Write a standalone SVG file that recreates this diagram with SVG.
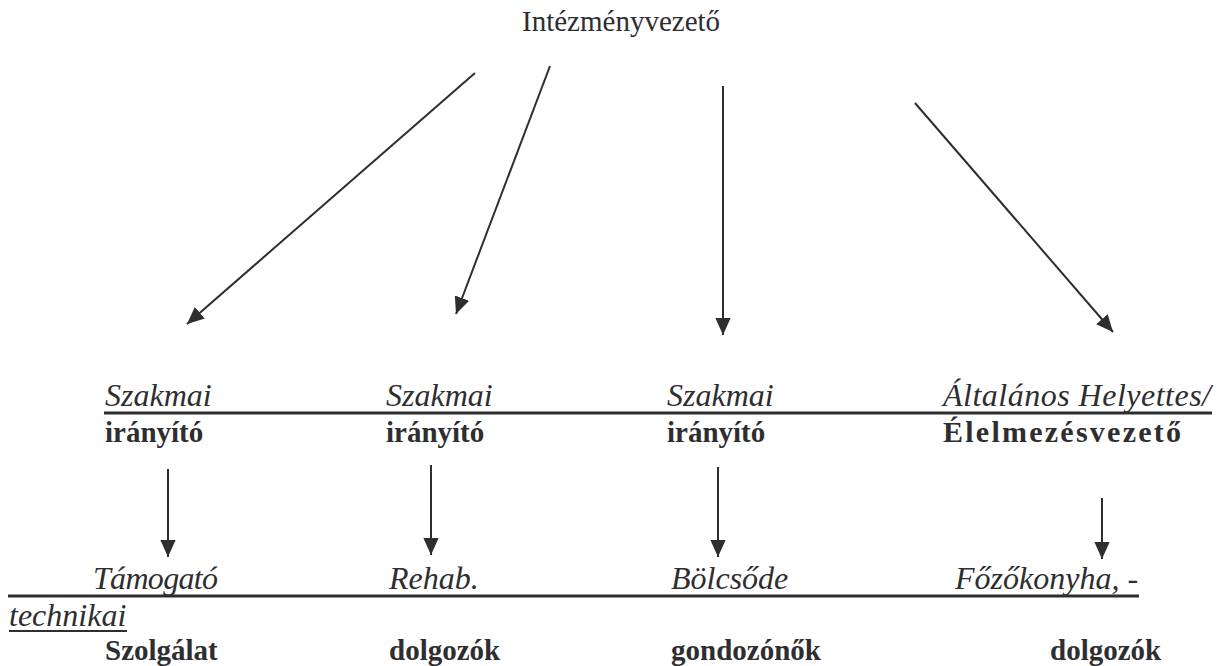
<svg xmlns="http://www.w3.org/2000/svg" width="1219" height="666" viewBox="0 0 1219 666">
<style>
text{font-family:"Liberation Serif","Times New Roman",serif;font-size:32px;fill:#2e2e30}
.t{font-size:29px}
.i{font-style:italic}
.b{font-weight:bold;font-size:29px}
.c{stroke:#2e2e30;stroke-width:2;fill:none}
.r{stroke:#2e2e30;stroke-width:3}
</style>
<defs>
<marker id="ah" viewBox="0 0 10 10" refX="10" refY="5" markerWidth="17" markerHeight="17" markerUnits="userSpaceOnUse" orient="auto">
<path d="M0,0.5 L10,5 L0,9.5 z" fill="#2e2e30"/>
</marker>
</defs>
<g id="n-top"><text class="t" x="522" y="31">Intézményvezető</text></g>
<g id="connectors">
<line class="c" x1="475" y1="73" x2="187" y2="324" marker-end="url(#ah)"/>
<line class="c" x1="550" y1="66" x2="456" y2="314" marker-end="url(#ah)"/>
<line class="c" x1="723" y1="86" x2="723" y2="335" marker-end="url(#ah)"/>
<line class="c" x1="915" y1="103" x2="1113" y2="332" marker-end="url(#ah)"/>
<line class="c" x1="168" y1="469" x2="168" y2="557" marker-end="url(#ah)"/>
<line class="c" x1="431" y1="465" x2="431" y2="555" marker-end="url(#ah)"/>
<line class="c" x1="718" y1="467" x2="718" y2="557" marker-end="url(#ah)"/>
<line class="c" x1="1102" y1="498" x2="1102" y2="559" marker-end="url(#ah)"/>
</g>
<g id="rules">
<line class="r" x1="104" y1="413" x2="1212" y2="413"/>
<line class="r" x1="8" y1="596" x2="1139" y2="596"/>
<line stroke="#2e2e30" stroke-width="2" x1="9" y1="631" x2="127" y2="631"/>
</g>
<g id="n1"><text class="i" x="105" y="406">Szakmai</text><text class="b" x="105" y="442">irányító</text></g>
<g id="n2"><text class="i" x="386" y="406">Szakmai</text><text class="b" x="386" y="442">irányító</text></g>
<g id="n3"><text class="i" x="667" y="406">Szakmai</text><text class="b" x="667" y="442">irányító</text></g>
<g id="n4"><text class="i" x="943" y="406" textLength="268">Általános Helyettes/</text><text class="b" x="943" y="442" style="font-size:30px" textLength="238">Élelmezésvezető</text></g>
<g id="m1"><text class="i" x="93" y="589" textLength="125">Támogató</text><text class="i" x="9" y="626">technikai</text><text class="b" x="105" y="660">Szolgálat</text></g>
<g id="m2"><text class="i" x="389" y="589">Rehab.</text><text class="b" x="389" y="660">dolgozók</text></g>
<g id="m3"><text class="i" x="671" y="589">Bölcsőde</text><text class="b" x="671" y="660">gondozónők</text></g>
<g id="m4"><text class="i" x="955" y="589">Főzőkonyha, -</text><text class="b" x="1050" y="660">dolgozók</text></g>
</svg>
